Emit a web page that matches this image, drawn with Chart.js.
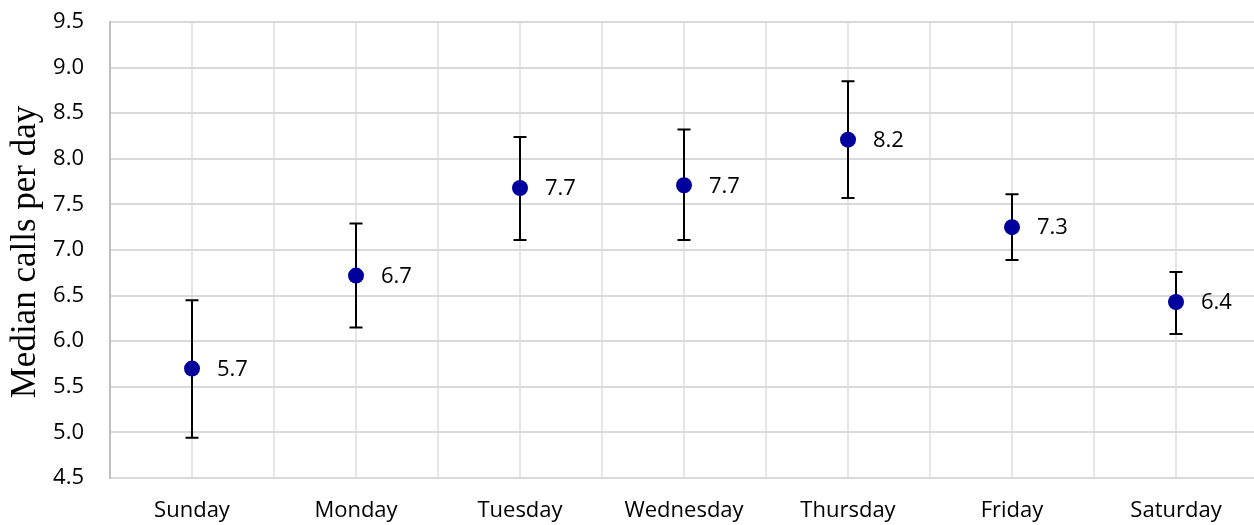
<!DOCTYPE html>
<html>
<head>
<meta charset="utf-8">
<script src="https://cdn.jsdelivr.net/npm/chart.js@4/dist/chart.umd.min.js"></script>
<style>
  html, body { margin: 0; padding: 0; background: #fff; overflow: hidden; }
  #wrap { width: 1258px; height: 525px; position: relative; }
</style>
</head>
<body>
<div id="wrap"><canvas id="myChart"></canvas></div>
<script>
const days = ["Sunday", "Monday", "Tuesday", "Wednesday", "Thursday", "Friday", "Saturday"];
const median = [5.70, 6.72, 7.68, 7.71, 8.21, 7.25, 6.43];
const upper = [6.45, 7.29, 8.24, 8.32, 8.85, 7.61, 6.76];
const lower = [4.94, 6.15, 7.11, 7.11, 7.57, 6.89, 6.08];
const pointLabels = ["5.7", "6.7", "7.7", "7.7", "8.2", "7.3", "6.4"];
const yTitle = "Median calls per day";

const tickFont = { family: "Open Sans", size: 22 };

// draws the black whiskers under the points
const errorBars = {
  id: "errorBars",
  beforeDatasetsDraw(chart) {
    const ctx = chart.ctx;
    const y = chart.scales.y;
    const meta = chart.getDatasetMeta(0);
    ctx.save();
    ctx.strokeStyle = "#000";
    ctx.lineWidth = 2;
    meta.data.forEach((pt, i) => {
      const top = y.getPixelForValue(upper[i]);
      const bot = y.getPixelForValue(lower[i]);
      ctx.beginPath();
      ctx.moveTo(pt.x, top);
      ctx.lineTo(pt.x, bot);
      ctx.moveTo(pt.x - 6.5, top);
      ctx.lineTo(pt.x + 6.5, top);
      ctx.moveTo(pt.x - 6.5, bot);
      ctx.lineTo(pt.x + 6.5, bot);
      ctx.stroke();
    });
    ctx.restore();
  }
};

const valueLabels = {
  id: "valueLabels",
  afterDatasetsDraw(chart) {
    const ctx = chart.ctx;
    const meta = chart.getDatasetMeta(0);
    ctx.save();
    ctx.fillStyle = "#000";
    ctx.font = "22px 'Open Sans'";
    ctx.textAlign = "left";
    ctx.textBaseline = "middle";
    meta.data.forEach((pt, i) => {
      ctx.fillText(pointLabels[i], pt.x + 25, pt.y + 1);
    });
    ctx.restore();
  }
};

// serif axis title, drawn by hand
const axisTitle = {
  id: "axisTitle",
  afterDraw(chart) {
    const ctx = chart.ctx;
    const area = chart.chartArea;
    ctx.save();
    ctx.fillStyle = "#000";
    ctx.font = "35px 'Liberation Serif'";
    ctx.textAlign = "center";
    ctx.textBaseline = "alphabetic";
    ctx.translate(35, (area.top + area.bottom) / 2 + 2);
    ctx.rotate(-Math.PI / 2);
    ctx.fillText(yTitle, 0, 0);
    ctx.restore();
  }
};

const ctx = document.getElementById("myChart").getContext("2d");
new Chart(ctx, {
  type: "scatter",
  data: {
    datasets: [{
      data: median.map((v, i) => ({ x: i, y: v })),
      pointRadius: 8,
      pointHoverRadius: 8,
      pointBackgroundColor: "#00009c",
      pointBorderColor: "#00009c",
      pointBorderWidth: 0,
      showLine: false
    }]
  },
  options: {
    responsive: true,
    maintainAspectRatio: false,
    animation: false,
    layout: { autoPadding: false, padding: { top: 22, right: 0, bottom: 0, left: 0 } },
    plugins: {
      legend: { display: false },
      tooltip: { enabled: false }
    },
    scales: {
      x: {
        type: "linear",
        min: -0.5,
        max: 6.5,
        afterFit(scale) {
          scale.height = 47;
          scale.paddingLeft = 0;
          scale.paddingRight = 0;
        },
        ticks: {
          stepSize: 0.5,
          autoSkip: false,
          maxRotation: 0,
          padding: 20,
          color: "#000",
          font: tickFont,
          callback: (v) => Number.isInteger(v) ? days[v] : ""
        },
        grid: { color: "#e6e6e6", lineWidth: 2, drawTicks: false },
        border: { color: "#d9d9d9", width: 2 }
      },
      y: {
        min: 4.5,
        max: 9.5,
        afterFit(scale) {
          scale.width = 110;
          scale.paddingTop = 0;
          scale.paddingBottom = 0;
        },
        ticks: {
          stepSize: 0.5,
          padding: 26,
          color: "#000",
          font: tickFont,
          callback: (v) => v.toFixed(1)
        },
        grid: { color: "#d9d9d9", lineWidth: 2, drawTicks: false },
        border: { color: "#bfbfbf", width: 2 }
      }
    }
  },
  plugins: [errorBars, valueLabels, axisTitle]
});
</script>
</body>
</html>
